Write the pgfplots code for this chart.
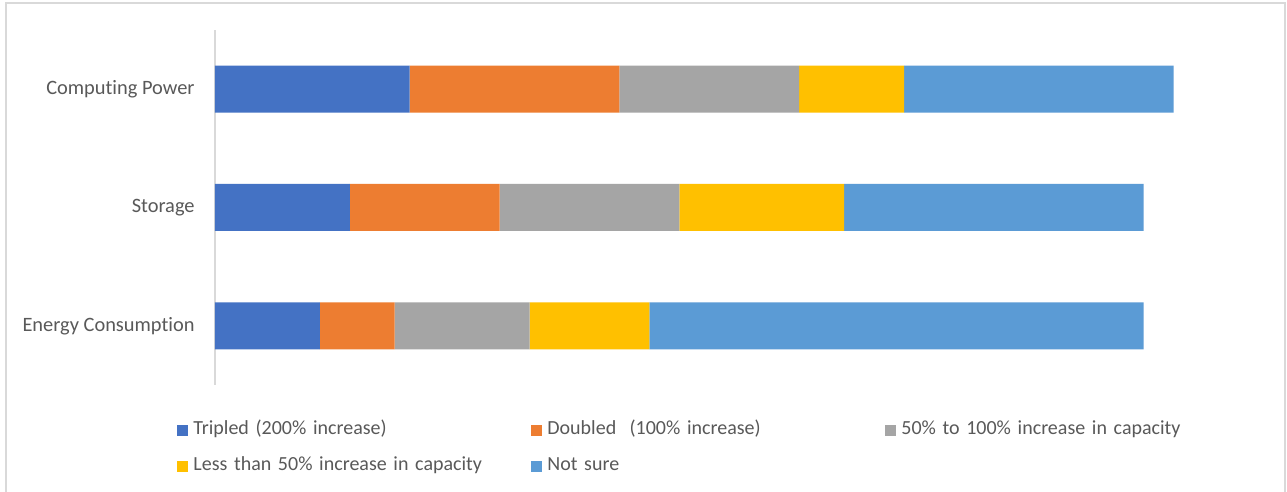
\documentclass[border=0pt]{standalone}
\usepackage{fontspec}
\setmainfont{Carlito}[Ligatures={NoCommon}]
\usepackage{pgfplots}
\pgfplotsset{compat=1.18}

\definecolor{cTripled}{HTML}{4472C4}
\definecolor{cDoubled}{HTML}{ED7D31}
\definecolor{cFifty}{HTML}{A5A5A5}
\definecolor{cLess}{HTML}{FFC000}
\definecolor{cNotSure}{HTML}{5B9BD5}
\definecolor{labelgray}{HTML}{595959}
\definecolor{axisgray}{HTML}{D9D9D9}
\definecolor{framegray}{HTML}{D9D9D9}

% square swatches in the legend
\pgfplotsset{
  sq/.style={legend image code/.code={\fill[##1] (0pt,-2.75pt) rectangle (5.5pt,2.75pt);}},
}

\begin{document}
\begin{tikzpicture}
\path[use as bounding box, fill=white] (0,0) rectangle (643.5pt,246pt);
\draw[framegray, line width=0.75pt] (3pt,0) -- (3pt,244.5pt) -- (642.5pt,244.5pt) -- (642.5pt,0);
\begin{axis}[
  at={(107.5pt,53.5pt)}, anchor=south west,
  scale only axis, width=525pt, height=177.5pt,
  xbar stacked, bar width=23.5pt,
  xmin=0, xmax=70.1, ymin=-0.5, ymax=2.5,
  axis x line=none, axis y line=left,
  y axis line style={-, draw=axisgray, line width=0.75pt},
  ytick={0,1,2},
  yticklabels={Energy Consumption,Storage,Computing Power},
  ytick style={draw=none}, major tick length=0pt,
  yticklabel style={font=\fontsize{10.2}{12}\selectfont, text=labelgray, inner sep=0pt, xshift=-10pt},
  legend columns=3, legend cell align=left,
  legend style={
    at={(axis description cs:-0.0362,-0.1000)}, anchor=north west,
    draw=none, fill=none, inner sep=0pt, row sep=8.5pt,
    font=\fontsize{10}{12}\selectfont, text=labelgray,
    nodes={text width=169pt, align=left, inner xsep=0pt, inner ysep=0pt,
           text height=7pt, text depth=2.5pt},
    /tikz/every odd column/.append style={column sep=2.5pt},
  },
]
\addplot[sq, fill=cTripled, draw=none] coordinates {(7,0) (9,1) (13,2)};
\addplot[sq, fill=cDoubled, draw=none] coordinates {(5,0) (10,1) (14,2)};
\addplot[sq, fill=cFifty, draw=none] coordinates {(9,0) (12,1) (12,2)};
\addplot[sq, fill=cLess, draw=none] coordinates {(8,0) (11,1) (7,2)};
\addplot[sq, fill=cNotSure, draw=none] coordinates {(33,0) (20,1) (18,2)};
\legend{Tripled (200\% increase), Doubled~~(100\% increase), 50\% to 100\% increase in capacity,
        Less than 50\% increase in capacity, Not sure}
\end{axis}
\end{tikzpicture}
\end{document}
